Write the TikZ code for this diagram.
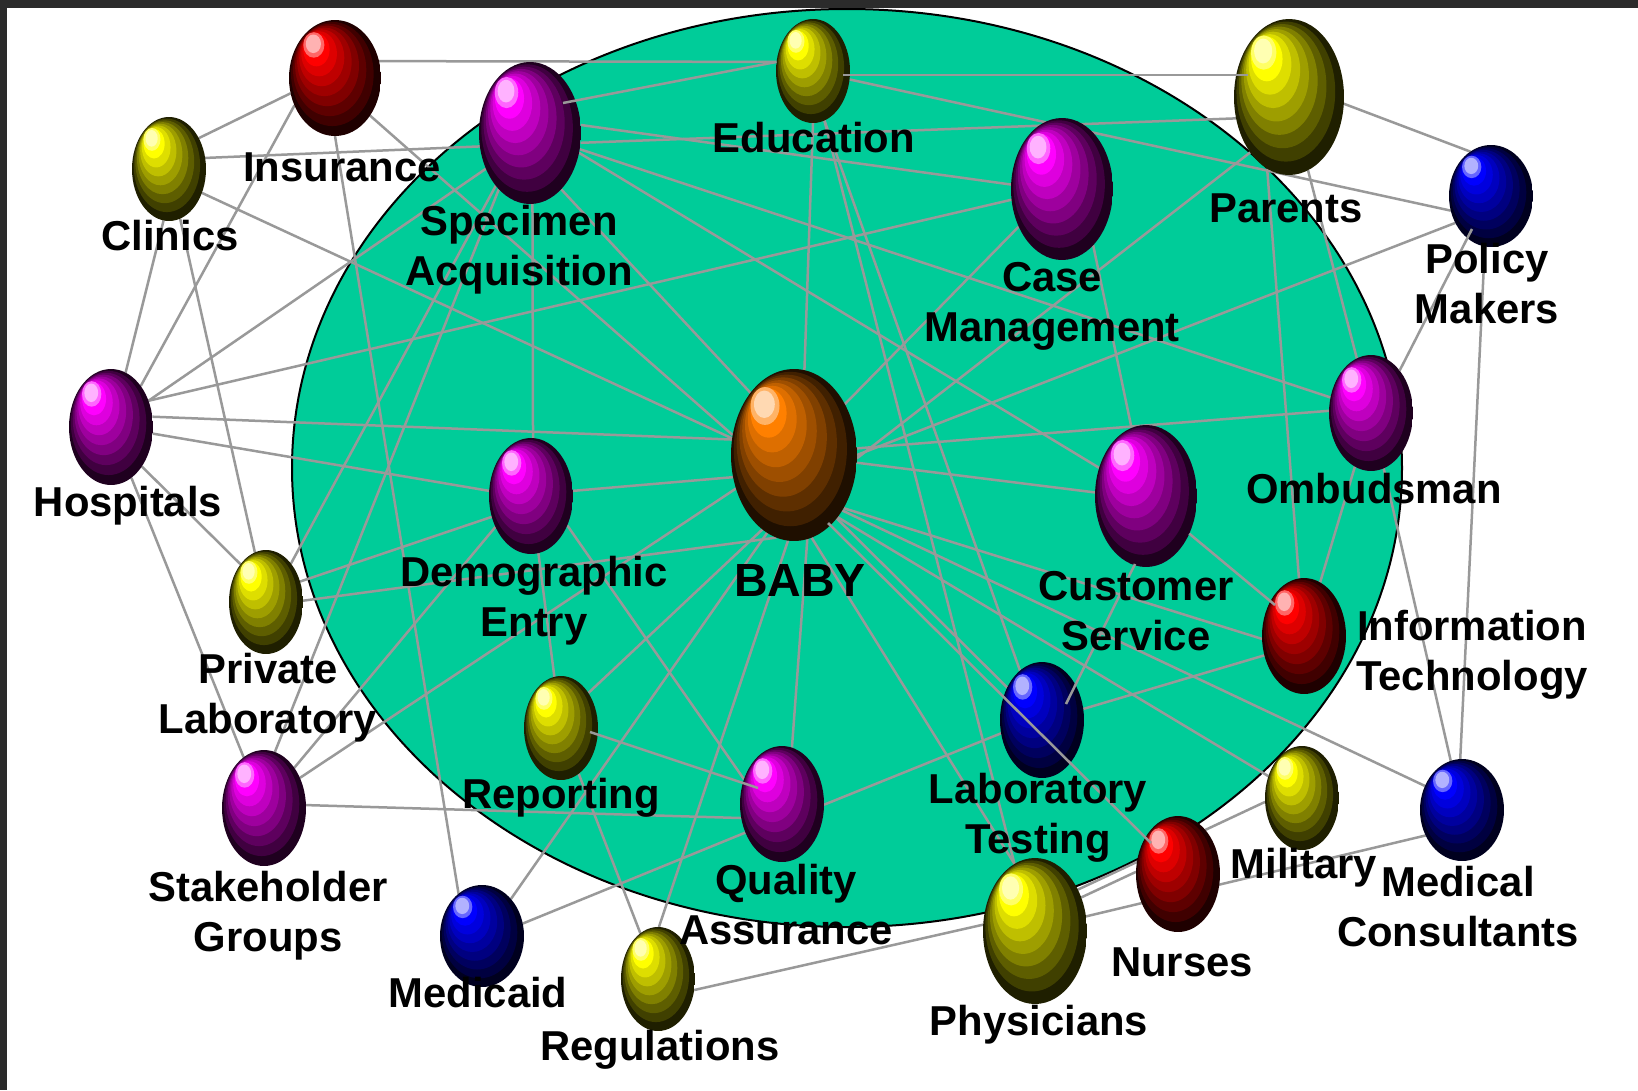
\documentclass[tikz,border=0pt]{standalone}
\usepackage{fontspec}
\setmainfont{Liberation Sans}
\usetikzlibrary{shapes.geometric}
\pgfdeclarelayer{edgelayer}
\pgfsetlayers{edgelayer,main}
\definecolor{linkgray}{RGB}{153,153,153}
\definecolor{fieldgreen}{RGB}{0,204,153}
\definecolor{framegray}{RGB}{43,43,43}
\definecolor{ballorange}{RGB}{255,128,0}
\definecolor{ballyellow}{RGB}{255,255,0}
\definecolor{ballmagenta}{RGB}{255,0,255}
\definecolor{ballred}{RGB}{255,0,0}
\definecolor{ballblue}{RGB}{0,0,255}
\newcommand{\ballbands}[3]{%
\fill[#1!12!black] (-#2,-#3) rectangle (#2,#3);
\foreach \k/\sh in {1/25,2/37,3/50,4/62,5/75,6/87,7/100}{
\pgfmathsetmacro{\tt}{.12*\k}
\fill[#1!\sh!black] ({-.48*\tt*#2},{-.58*\tt*#3}) ellipse ({(1-.85*\tt)*#2} and {(1-.85*\tt)*#3});
}
\fill[#1!60!white] ({-.46*#2},{-.57*#3}) ellipse ({.23*#2} and {.22*#3});
\fill[#1!30!white] ({-.47*#2},{-.59*#3}) ellipse ({.165*#2} and {.16*#3});
}
\tikzset{ball/.style n args={3}{shape=ellipse,inner sep=0pt,outer sep=0pt,minimum width={2*#2pt},minimum height={2*#3pt},path picture={\ballbands{#1}{#2}{#3}}}}
\tikzstyle{link}=[draw=linkgray,line width=2.5pt]
\tikzstyle{lbl}=[align=center,inner sep=0pt,font=\fontsize{41.8}{50}\selectfont\bfseries]
\begin{document}
\begin{tikzpicture}[x=1pt,y=-1pt]
\useasboundingbox (0,0) rectangle (1638,1090);
\begin{pgfonlayer}{edgelayer}
\fill[framegray] (0,0) rectangle (1638,1090);
\fill[white] (7,8) rectangle (1638,1090);
\node[ellipse,draw=black,line width=2pt,fill=fieldgreen,inner sep=0pt,minimum width=1110pt,minimum height=918pt] (field) at (847,468) {};
\end{pgfonlayer}
% balls
\node[ball={ballred}{46}{58}] (insurance) at (335,78) {};
\node[ball={ballyellow}{37}{52}] (clinics) at (169,169) {};
\node[ball={ballmagenta}{51}{71}] (specimen) at (530,133) {};
\node[ball={ballyellow}{37}{52}] (education) at (813,71) {};
\node[ball={ballyellow}{55}{78}] (parents) at (1289,97) {};
\node[ball={ballmagenta}{51}{71}] (casemgmt) at (1062,189) {};
\node[ball={ballblue}{42}{51}] (policy) at (1491,196) {};
\node[ball={ballmagenta}{42}{58}] (hospitals) at (111,427) {};
\node[ball={ballmagenta}{42}{58}] (ombudsman) at (1371,413) {};
\node[ball={ballmagenta}{42}{58}] (demographic) at (531,496) {};
\node[ball={ballorange}{63}{86}] (baby) at (794,455) {};
\node[ball={ballmagenta}{51}{71}] (customer) at (1146,496) {};
\node[ball={ballyellow}{37}{52}] (privatelab) at (266,602) {};
\node[ball={ballred}{42}{58}] (infotech) at (1304,636) {};
\node[ball={ballblue}{42}{58}] (labtesting) at (1042,720) {};
\node[ball={ballyellow}{37}{52}] (reporting) at (561,728) {};
\node[ball={ballmagenta}{42}{58}] (quality) at (782,804) {};
\node[ball={ballmagenta}{42}{58}] (stakeholder) at (264,808) {};
\node[ball={ballyellow}{37}{52}] (military) at (1302,798) {};
\node[ball={ballblue}{42}{51}] (medical) at (1462,810) {};
\node[ball={ballred}{42}{58}] (nurses) at (1178,874) {};
\node[ball={ballyellow}{52}{73}] (physicians) at (1035,931) {};
\node[ball={ballblue}{42}{51}] (medicaid) at (482,936) {};
\node[ball={ballyellow}{37}{52}] (regulations) at (658,979) {};
% links under the balls
\begin{pgfonlayer}{edgelayer}
\path[link]
(insurance.21) edge (education.166)
(insurance.199) edge (clinics.46)
(insurance.214) edge (hospitals.54)
(insurance.313) edge (baby.162)
(insurance.270) edge (medicaid.119)
(clinics.17) edge (specimen.195)
(clinics.324) edge (baby.165)
(clinics.264) edge (hospitals.75)
(clinics) edge (privatelab)
(specimen.9) edge (casemgmt.175)
(specimen.349) edge (parents.202)
(specimen.342) edge (ombudsman.159)
(specimen.338) edge (customer.149)
(specimen.299) edge (baby.125)
(specimen.272) edge (demographic.88)
(specimen.219) edge (hospitals.35)
(specimen.237) edge (privatelab.57)
(specimen.241) edge (stakeholder.79)
(hospitals.35) edge (casemgmt.192)
(hospitals.14) edge (baby.166)
(hospitals.351) edge (demographic.173)
(hospitals.308) edge (privatelab.124)
(hospitals) edge (stakeholder)
(demographic.7) edge (baby.200)
(demographic.208) edge (privatelab.31)
(demographic.221) edge (stakeholder.53)
(demographic.321) edge (quality.147)
(demographic) edge (reporting)
(privatelab.2) edge (baby.258)
(stakeholder.40) edge (baby.210)
(reporting.52) edge (baby.247)
(medicaid.52) edge (baby.251)
(regulations.89) edge (baby.266)
(quality.80) edge (baby.279)
(physicians.107) edge (baby.282)
(labtesting.137) edge (baby.304)
(military.147) edge (baby.305)
(medical.147) edge (baby.311)
(infotech.184) edge (baby.313)
(customer.176) edge (baby.353)
(ombudsman.177) edge (baby.6)
(policy.217) edge (baby.0)
(parents.235) edge (baby.357)
(casemgmt.221) edge (baby.45)
(education.270) edge (baby.83)
(stakeholder.4) edge (quality.199)
(medicaid.17) edge (quality.218)
(reporting) edge (regulations)
(quality.359) edge (labtesting.198)
(regulations.343) edge (physicians.173)
(labtesting.15) edge (infotech.206)
(education.283) edge (physicians.107)
(education.283) edge (labtesting.114)
(education.347) edge (policy.200)
(parents.353) edge (policy.115)
(parents) edge (ombudsman)
(parents.253) edge (infotech.95)
(policy.263) edge (medical.92)
(ombudsman) edge (infotech)
(ombudsman) edge (medical)
(casemgmt.299) edge (customer.102)
(physicians.44) edge (military.186)
(physicians.36) edge (nurses.177)
(physicians.16) edge (medical.215);
\end{pgfonlayer}
% links over the balls
\coordinate (specimentip) at (563,103);
\coordinate (edutip) at (843,75);
\coordinate (parentstip) at (1248,75);
\coordinate (reporttip) at (590,732);
\coordinate (qualitytip) at (758,788);
\coordinate (babytip) at (828,523);
\coordinate (nursestip) at (1151,843);
\coordinate (labtip) at (1066,704);
\coordinate (customertip) at (1135,564);
\coordinate (infotip) at (1275,605);
\coordinate (policytip) at (1472,229);
\path[link]
(specimentip) edge (education.166)
(edutip) edge (parentstip)
(reporttip) edge (qualitytip)
(babytip) edge (nursestip)
(labtip) edge (customertip)
(customer.319) edge (infotip)
(policytip) edge (ombudsman.56);
% labels
\node[lbl] (tinsurance) at (342,167) {Insurance};
\node[lbl] (tclinics) at (170,236) {Clinics};
\node[lbl] (tspecimen) at (519,250) {Specimen\\Acquisition};
\node[lbl] (teducation) at (814,138) {Education};
\node[lbl] (tparents) at (1286,208) {Parents};
\node[lbl] (tcase) at (1052,306) {Case\\Management};
\node[lbl] (tpolicy) at (1487,284) {Policy\\Makers};
\node[lbl] (thospitals) at (128,506) {Hospitals};
\node[lbl] (tombudsman) at (1374,489) {Ombudsman};
\node[lbl] (tdemographic) at (534,601) {Demographic\\Entry};
\node[lbl,font=\fontsize{46.5}{50}\selectfont\bfseries] (tbaby) at (800,580) {BABY};
\node[lbl] (tcustomer) at (1136,611) {Customer\\Service};
\node[lbl] (tprivate) at (268,698) {Private\\Laboratory};
\node[lbl] (tinfo) at (1472,655) {Information\\Technology};
\node[lbl] (tlab) at (1038,818) {Laboratory\\Testing};
\node[lbl] (treporting) at (561,798) {Reporting};
\node[lbl] (tquality) at (786,905) {Quality\\Assurance};
\node[lbl] (tstakeholder) at (268,916) {Stakeholder\\Groups};
\node[lbl] (tmilitary) at (1304,868) {Military};
\node[lbl] (tmedical) at (1458,907) {Medical\\Consultants};
\node[lbl] (tnurses) at (1182,962) {Nurses};
\node[lbl] (tphysicians) at (1039,1025) {Physicians};
\node[lbl] (tmedicaid) at (478,993) {Medicaid};
\node[lbl] (tregulations) at (660,1050) {Regulations};
\end{tikzpicture}
\end{document}
